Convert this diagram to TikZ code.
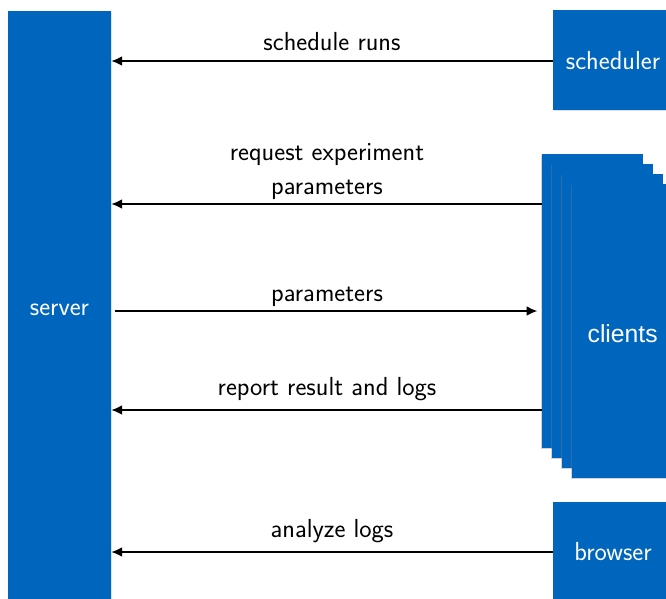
\documentclass[tikz,border=0pt]{standalone}
\usepackage{fontspec}
\newfontfamily\clientfont{Liberation Sans}
\usetikzlibrary{arrows.meta,shadows}
\definecolor{boxblue}{RGB}{0,101,189}
\begin{document}
\begin{tikzpicture}[x=1pt,y=-1pt,
  font=\sffamily\fontsize{26.1}{33.3}\selectfont,
  box/.style={fill=boxblue, draw=none, text=white, inner sep=0pt,
    drop shadow={shadow xshift=0.8pt,shadow yshift=-1pt,opacity=0.25}},
  clientbox/.style={fill=boxblue, draw=none, text=white, inner sep=0pt,
    minimum width=101.3pt, minimum height=294pt,
    drop shadow={shadow xshift=-1pt,shadow yshift=-1pt,opacity=0.35}},
  lbl/.style={anchor=base, inner sep=0pt},
  arr/.style={line width=2pt, -{Latex[length=11pt,width=10pt]}}]
\useasboundingbox (0,0) rectangle (666,598);
% boxes
\node[box, minimum width=103pt, minimum height=598pt] (server) at (59.5,310) {server};
\node[box, minimum width=120pt, minimum height=100pt, text height=19pt] (scheduler) at (613,60) {scheduler};
\node[box, minimum width=120pt, minimum height=100pt] (browser) at (613,552) {browser};
\node[clientbox] (c0) at (592.35,301) {};
\node[clientbox] (c1) at (602.45,311) {};
\node[clientbox] (c2) at (612.55,321) {};
\node[clientbox, font=\clientfont\fontsize{24.7}{30}\selectfont, text height=24pt] (c3) at (622.65,331) {clients};
% labels
\node[lbl] (l1) at (332,50) {schedule runs};
\node[lbl] (l2) at (327,194) {\begin{tabular}[b]{@{}c@{}}request experiment\\parameters\end{tabular}};
\node[lbl] (l3) at (327,301.5) {parameters};
\node[lbl] (l4) at (327,395) {report result and logs};
\node[lbl] (l5) at (332,537) {analyze logs};
% connectors
\draw[arr] (scheduler.west |- 0,61) -- (server.east |- 0,61);
\draw[arr] (c0.west |- 0,204) -- (server.east |- 0,204);
\draw[arr, shorten <=3.5pt, shorten >=4pt] (server.east |- 0,311) -- (c0.west |- 0,311);
\draw[arr] (c0.west |- 0,410) -- (server.east |- 0,410);
\draw[arr] (browser.west |- 0,552) -- (server.east |- 0,552);
\end{tikzpicture}
\end{document}
